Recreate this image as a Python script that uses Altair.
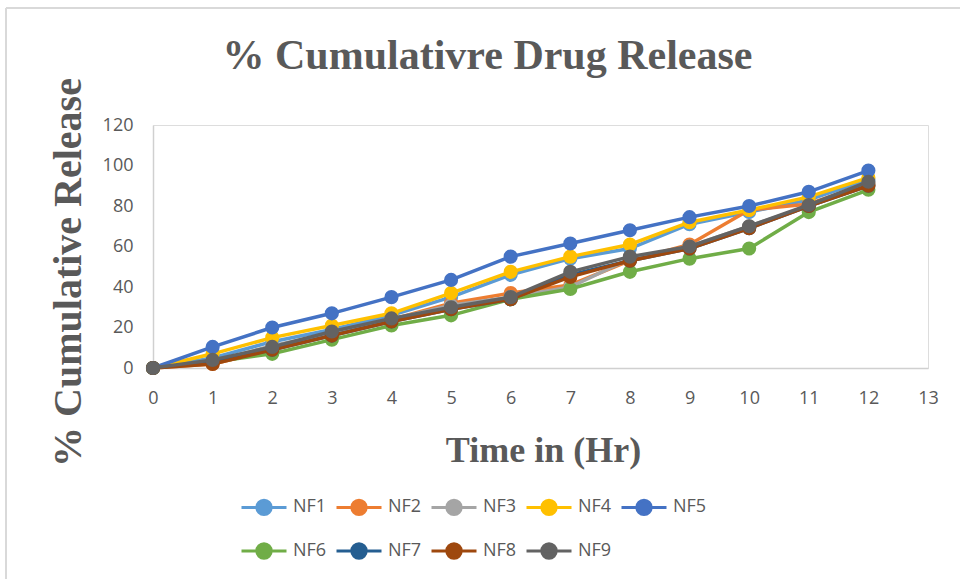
import altair as alt
import pandas as pd

# Sampling times (hours)
hours = [0, 1, 2, 3, 4, 5, 6, 7, 8, 9, 10, 11, 12]

# Cumulative drug release (%) for each formulation
nf1 = [0, 5, 13, 19, 26, 35, 46, 54, 59, 71, 77, 83, 93]
nf2 = [0, 2, 9, 17, 24, 32, 37, 41, 53, 61, 78, 81, 91]
nf3 = [0, 3, 11, 17, 24, 31, 35, 40, 54, 60, 70, 80, 91]
nf4 = [0, 7, 15, 21, 27, 37, 47.5, 55, 61, 72, 78, 84.5, 94]
nf5 = [0, 10.4, 20, 27, 35, 43.5, 55, 61.5, 68, 74.5, 80, 87, 97.5]
nf6 = [0, 3, 7, 14, 21, 26, 34, 39, 47.5, 54, 59, 77, 88]
nf7 = [0, 3, 9, 16, 23, 29, 34, 46, 53, 59, 69, 80, 90]
nf8 = [0, 2, 9, 16, 23, 29, 34, 45, 53, 59, 69, 80, 90]
nf9 = [0, 4, 10.4, 18, 24.5, 30, 35, 47.5, 55, 60, 70, 80.5, 92]

names = ["NF1", "NF2", "NF3", "NF4", "NF5", "NF6", "NF7", "NF8", "NF9"]
series = [nf1, nf2, nf3, nf4, nf5, nf6, nf7, nf8, nf9]
colors = ["#5B9BD5", "#ED7D31", "#A5A5A5", "#FFC000", "#4472C4",
          "#70AD47", "#255E91", "#9E480E", "#636363"]

rows = []
for name, vals in zip(names, series):
    for h, v in zip(hours, vals):
        rows.append({"Formulation": name, "Time": h, "Release": v})
df = pd.DataFrame(rows)

TEXT = "#595959"
AXIS_LINE = "#D0D0D0"

x_enc = alt.X("Time:Q",
              scale=alt.Scale(domain=[0, 13], nice=False),
              axis=alt.Axis(values=list(range(0, 14)), title="Time in (Hr)",
                            labelFlush=False, labelPadding=21,
                            titleX=390, titleY=82, titleBaseline="middle",
                            titleAlign="center"))
y_enc = alt.Y("Release:Q",
              scale=alt.Scale(domain=[0, 120], nice=False),
              axis=alt.Axis(values=list(range(0, 121, 20)),
                            title="% Cumulative Release",
                            titleX=-85, titleY=147, titleAngle=270,
                            titleBaseline="middle", titleAlign="center"))
color_enc = alt.Color(
    "Formulation:N",
    scale=alt.Scale(domain=names, range=colors),
    legend=alt.Legend(
        title=None, orient="none", legendX=87, legendY=358, columns=5,
        direction="horizontal",
        symbolType="M-1,0L1,0M0.32,0A0.32,0.32,0,1,1,-0.32,0A0.32,0.32,0,1,1,0.32,0Z",
        symbolSize=2025, symbolStrokeWidth=3, labelOffset=5,
        columnPadding=3, rowPadding=6,
        labelFont="Open Sans", labelFontSize=18, labelColor=TEXT,
        symbolOpacity=1),
)

base = alt.Chart(df)
layers = []
# one line-with-markers layer per formulation, drawn in series order
for name in names:
    sub = base.transform_filter(alt.datum.Formulation == name)
    layers.append(sub.mark_line(strokeWidth=3.5).encode(x=x_enc, y=y_enc, color=color_enc))
    layers.append(sub.mark_point(filled=True, size=200, opacity=1).encode(
        x=x_enc, y=y_enc, color=color_enc))

# outer chart-area border (top and left edges)
border_top = alt.Chart(df).mark_rule(color="#D9D9D9", strokeWidth=1.5).encode(
    x=alt.value(-147), x2=alt.value(807), y=alt.value(-117))
border_left = alt.Chart(df).mark_rule(color="#D9D9D9", strokeWidth=1.5).encode(
    x=alt.value(-147), y=alt.value(-117), y2=alt.value(454))

chart = alt.layer(border_top, border_left, *layers).properties(
    width=775, height=243,
    title=alt.TitleParams("% Cumulativre Drug Release", anchor="middle",
                          dx=-53, offset=-104, baseline="alphabetic"),
    autosize=alt.AutoSizeParams(type="none"),
    padding={"left": 153, "top": 125, "right": 32, "bottom": 211},
).configure_view(stroke=None).configure(background="white").configure_axis(
    grid=False, ticks=False, domainColor=AXIS_LINE, domainWidth=1.5,
    labelFont="Open Sans", labelFontSize=18, labelColor=TEXT, labelPadding=18,
    titleFont="Liberation Serif", titleFontWeight="bold", titleFontSize=40,
    titleColor=TEXT,
).configure_axisX(titleFontSize=36).configure_axisY(labelPadding=20).configure_title(
    font="Liberation Serif", fontWeight="bold", fontSize=42, color=TEXT)

chart.save("out.html", embed_options={"renderer": "svg", "actions": False})
